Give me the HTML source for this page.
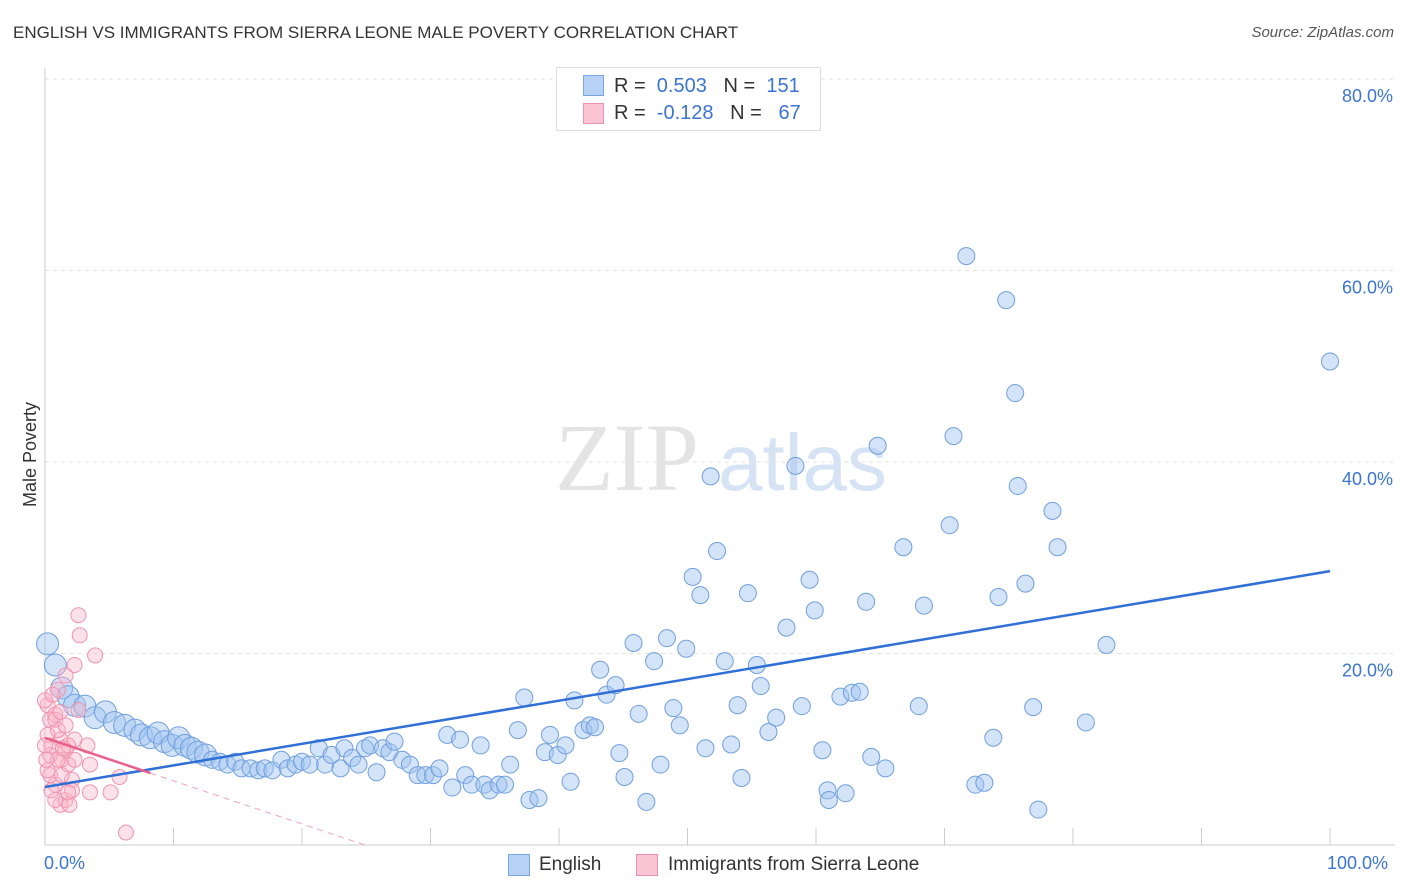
<!DOCTYPE html>
<html><head><meta charset="utf-8"><style>
body{margin:0;background:#fff;font-family:"Liberation Sans",sans-serif;}
#wrap{position:relative;width:1406px;height:892px;overflow:hidden}
.t{position:absolute;white-space:nowrap}
</style></head><body>
<div id="wrap">
<div class="t" style="left:13px;top:23px;font-size:17px;color:#333">ENGLISH VS IMMIGRANTS FROM SIERRA LEONE MALE POVERTY CORRELATION CHART</div>
<div class="t" style="right:12px;top:24px;font-size:15px;color:#555;font-style:italic">Source: ZipAtlas.com</div>
<svg id="svg" width="1406" height="892" style="position:absolute;left:0;top:0"></svg>
<div class="t" style="left:556px;top:67px;width:263px;height:62px;border:1px solid #ddd;background:#fff"></div>
<div class="t" style="left:583px;top:75px;width:19px;height:19px;background:#b8d2f5;border:1px solid #7aa5e3"></div>
<div class="t" style="left:583px;top:103px;width:19px;height:19px;background:#f9c4d3;border:1px solid #ee91ad"></div>
<div class="t" style="left:614px;top:75px;font-size:20px;color:#333">R = &nbsp;<span style="color:#3b74d1">0.503</span> &nbsp;&nbsp;N = &nbsp;<span style="color:#3b74d1">151</span></div>
<div class="t" style="left:614px;top:102px;font-size:20px;color:#333">R = &nbsp;<span style="color:#3b74d1">-0.128</span> &nbsp;&nbsp;N = &nbsp;&nbsp;<span style="color:#3b74d1">67</span></div>
<div class="t" style="left:-22px;top:444px;font-size:18px;color:#333;transform:rotate(-90deg)">Male Poverty</div>
<div class="t" style="left:44px;top:853px;font-size:18px;color:#3b74d1">0.0%</div>
<div class="t" style="left:1327px;top:853px;font-size:18px;color:#3b74d1">100.0%</div>
<div class="t" style="left:508px;top:854px;width:20px;height:20px;background:#b8d2f5;border:1px solid #7aa5e3"></div>
<div class="t" style="left:539px;top:854px;font-size:19px;color:#333">English</div>
<div class="t" style="left:636px;top:854px;width:20px;height:20px;background:#f9c4d3;border:1px solid #ee91ad"></div>
<div class="t" style="left:668px;top:854px;font-size:19px;color:#333">Immigrants from Sierra Leone</div>
</div>
<script>
const yTicks=[20,40,60,80];
const yTickLabels=["20.0%","40.0%","60.0%","80.0%"];
const englishX=[0.2,0.8,1.3,1.8,2.3,3.1,3.9,4.7,5.4,6.2,7.0,7.5,8.2,8.8,9.3,9.9,10.4,10.9,11.4,11.9,12.5,13.0,13.6,14.2,14.8,15.3,16.0,16.6,17.1,17.7,18.4,18.9,19.5,20.0,20.6,21.3,21.8,22.3,23.0,23.3,23.9,24.4,24.9,25.3,25.8,26.3,26.8,27.2,27.8,28.4,29.0,29.6,30.2,30.7,31.3,31.7,32.3,32.7,33.2,33.9,34.2,34.6,35.3,35.8,36.2,36.8,37.3,37.7,38.4,38.9,39.3,39.9,40.5,40.9,41.2,41.9,42.4,42.8,43.2,43.7,44.4,44.7,45.1,45.8,46.2,46.8,47.4,47.9,48.4,48.9,49.4,49.9,50.4,51.0,51.4,51.8,52.3,52.9,53.4,53.9,54.2,54.7,55.4,55.7,56.3,56.9,57.7,58.4,58.9,59.5,59.9,60.5,60.9,61.0,61.9,62.3,62.8,63.4,63.9,64.3,64.8,65.4,66.8,68.0,68.4,70.4,70.7,71.7,72.4,73.1,73.8,74.2,74.8,75.5,75.7,76.3,76.9,77.3,78.4,78.8,81.0,82.6,100];
const englishY=[21.0,18.8,16.4,15.5,14.6,14.5,13.3,13.9,12.8,12.5,12.0,11.5,11.2,11.7,10.8,10.4,11.2,10.4,10.1,9.7,9.4,8.9,8.7,8.4,8.7,8.0,8.0,7.8,8.0,7.8,8.9,8.0,8.4,8.7,8.4,10.1,8.4,9.4,8.0,10.1,9.1,8.4,10.1,10.4,7.6,10.1,9.7,10.8,8.9,8.4,7.3,7.3,7.3,8.0,11.5,6.0,11.0,7.3,6.3,10.4,6.3,5.7,6.3,6.3,8.4,12.0,15.4,4.7,4.9,9.7,11.5,9.4,10.4,6.6,15.1,12.0,12.5,12.3,18.3,15.7,16.7,9.6,7.1,21.1,13.7,4.5,19.2,8.4,21.6,14.3,12.5,20.5,28.0,26.1,10.1,38.5,30.7,19.2,10.5,14.6,7.0,26.3,18.8,16.6,11.8,13.3,22.7,39.6,14.5,27.7,24.5,9.9,5.7,4.7,15.5,5.4,15.9,16.0,25.4,9.2,41.7,8.0,31.1,14.5,25.0,33.4,42.7,61.5,6.3,6.5,11.2,25.9,56.9,47.2,37.5,27.3,14.4,3.7,34.9,31.1,12.8,20.9,50.5];
const sierraX=[0.2,0.4,0.5,0.8,1.0,1.2,1.3,1.6,1.8,2.1,2.3,2.6,2.7,2.6,3.9,2.3,3.5,3.3,1.2,1.6,1.9,0.8,0.4,0.5,1.3,1.0,0,0.2,0.4,1.0,1.8,2.1,3.5,5.1,5.8,6.3,0.8,1.2,0.6,1.6,0.2,1.8,2.3,0.8,0,0.1,1.4,1.6];
const sierraY=[14.6,13.1,10.4,13.6,16.2,11.0,8.9,9.9,8.4,6.8,11.0,14.1,21.9,24.0,19.8,18.8,8.4,10.4,4.2,4.7,4.2,6.3,7.3,5.7,7.3,12.0,15.1,11.5,9.4,8.9,10.4,5.7,5.5,5.5,7.1,1.3,13.1,13.9,15.7,12.5,7.8,5.5,8.9,4.7,10.4,8.9,10.1,17.7];
const englishTrend=[6.06,28.6];
const sierraTrend=[11.2,-0.45];
const sierraSolidEnd=8.2;

const NS="http://www.w3.org/2000/svg";
const svg=document.getElementById('svg');
const X=v=>45+v*12.85, Y=v=>845-v*9.575;
function mk(t,a){const e=document.createElementNS(NS,t);for(const k in a)e.setAttribute(k,a[k]);svg.appendChild(e);return e;}
let wm=mk('text',{x:555,y:490,'font-size':96,fill:'#e4e4e4','font-family':'Liberation Serif,serif'});wm.textContent='ZIP';


let wm2=mk('text',{x:718,y:490,'font-size':80,fill:'#d6e3f5','font-family':'Liberation Sans,sans-serif'});wm2.textContent='atlas';


yTicks.forEach((t,i)=>{
 const g=mk('line',{x1:45,x2:1395,y1:Y(t),y2:Y(t),stroke:'#e2e2e2','stroke-dasharray':'4,4'});
 
 
 const l=mk('text',{x:1393,y:Y(t)+23,'text-anchor':'end','font-size':18,fill:'#3b74d1','font-family':'Liberation Sans,sans-serif'});
 l.textContent=yTickLabels[i];
 
 
});
const ax=mk('line',{x1:45,x2:1395,y1:845,y2:845,stroke:'#ccc'});


const ay=mk('line',{x1:45,x2:45,y1:68,y2:845,stroke:'#ccc'});


for(let i=0;i<=10;i++){const tk=mk('line',{x1:X(i*10),x2:X(i*10),y1:828,y2:845,stroke:'#ccc'});
 
 }
englishX.forEach((x,i)=>{const r=x<13?11:8.5;
 const c=mk('circle',{cx:X(x),cy:Y(englishY[i]),r:r,fill:'rgba(160,195,240,0.45)',stroke:'#6f9fe0','stroke-width':1});
 
 });
sierraX.forEach((x,i)=>{
 const c=mk('circle',{cx:X(x),cy:Y(sierraY[i]),r:7.5,fill:'rgba(249,180,200,0.4)',stroke:'#f093b0','stroke-width':1});
 
 });
const bt=mk('line',{x1:X(0),y1:Y(englishTrend[0]),x2:X(100),y2:Y(englishTrend[1]),stroke:'#2f6fd6','stroke-width':2.5});


const ps=y=>sierraTrend[0]+sierraTrend[1]*y;
const pt=mk('line',{x1:X(0),y1:Y(ps(0)),x2:X(sierraSolidEnd),y2:Y(ps(sierraSolidEnd)),stroke:'#ea5f8c','stroke-width':2.5});


const xe=-sierraTrend[0]/sierraTrend[1];
const pd=mk('line',{x1:X(sierraSolidEnd),y1:Y(ps(sierraSolidEnd)),x2:X(xe),y2:Y(0),stroke:'#f0a0b8','stroke-width':1,'stroke-dasharray':'6,5'});


</script>
</body></html>
